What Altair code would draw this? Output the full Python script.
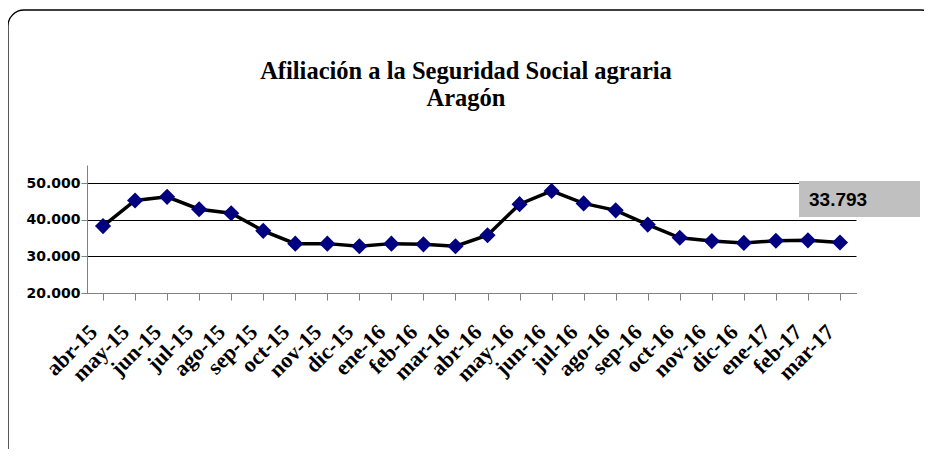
import altair as alt
import pandas as pd

months = ["abr-15", "may-15", "jun-15", "jul-15", "ago-15", "sep-15", "oct-15", "nov-15",
          "dic-15", "ene-16", "feb-16", "mar-16", "abr-16", "may-16", "jun-16", "jul-16",
          "ago-16", "sep-16", "oct-16", "nov-16", "dic-16", "ene-17", "feb-17", "mar-17"]
afiliados = [38300, 45300, 46300, 42900, 41800, 37000, 33500, 33500,
             32800, 33500, 33300, 32800, 35800, 44300, 47900, 44500,
             42600, 38700, 35100, 34200, 33700, 34300, 34400, 33793]
title_lines = ["Afiliación a la Seguridad Social agraria", "Aragón"]
y_ticks = [20000, 30000, 40000, 50000]

df = pd.DataFrame({"mes": months, "afiliados": afiliados})

W, H = 769, 128

x_enc = alt.X("mes:N", sort=months, title=None,
              scale=alt.Scale(paddingInner=0, paddingOuter=0),
              axis=alt.Axis(bandPosition=0, labelAngle=-45, labelAlign="right",
                            labelBaseline="middle", labelFont="Liberation Serif",
                            labelFontWeight="bold", labelFontSize=22, labelColor="black",
                            labelPadding=28, labelOffset=-10, tickSize=7, tickColor="#808080",
                            domainColor="#808080", grid=False, labelOverlap=False))
y_enc = alt.Y("afiliados:Q", title=None,
              scale=alt.Scale(domain=[20000, 55000], nice=False, zero=False),
              axis=alt.Axis(values=y_ticks, grid=True, gridColor="black", gridWidth=1,
                            labelExpr="replace(format(datum.value, ','), ',', '.')",
                            labelFont="DejaVu Sans", labelFontWeight="bold", labelFontSize=14,
                            labelColor="black", labelPadding=1, tickSize=6, tickColor="#808080",
                            domainColor="#808080"))

base = alt.Chart(df)

frame = base.transform_filter(alt.datum.mes == months[0]).mark_rect(
    fillOpacity=0, stroke="black", strokeWidth=1.3, cornerRadius=16
).encode(x=alt.value(-79), x2=alt.value(850), y=alt.value(-155), y2=alt.value(300))

line = base.mark_line(color="black", strokeWidth=3.5).encode(x=x_enc, y=y_enc)
points = base.mark_point(shape="diamond", filled=True, color="#000080", size=260, opacity=1).encode(
    x=x_enc, y=y_enc)

title_df = pd.DataFrame({"t": title_lines})
title1 = alt.Chart(title_df).transform_filter(alt.datum.t == title_lines[0]).mark_text(
    font="Liberation Serif", fontWeight="bold", fontSize=24.5, align="center",
    baseline="alphabetic", color="black"
).encode(text="t:N", x=alt.value(379), y=alt.value(-86))
title2 = alt.Chart(title_df).transform_filter(alt.datum.t == title_lines[1]).mark_text(
    font="Liberation Serif", fontWeight="bold", fontSize=24.5, align="center",
    baseline="alphabetic", color="black"
).encode(text="t:N", x=alt.value(379), y=alt.value(-59))

last = base.transform_filter(alt.datum.mes == months[-1]).transform_calculate(
    label="replace(format(datum.afiliados, ','), ',', '.')")
box = last.mark_rect(fill="#c0c0c0").encode(
    x=alt.value(712), x2=alt.value(833), y=alt.value(16), y2=alt.value(52))
box_text = last.mark_text(font="Liberation Sans", fontWeight="bold", fontSize=19,
                          align="left", baseline="alphabetic", color="black").encode(
    text="label:N", x=alt.value(722), y=alt.value(41))

chart = alt.layer(frame, line, points, box, box_text, title1, title2).properties(
    width=W, height=H,
    padding={"left": 79, "top": 157, "right": 68, "bottom": 156},
    autosize=alt.AutoSizeParams(type="none"),
).configure_view(stroke=None)

chart.save("out.html", embed_options={"renderer": "svg", "actions": False})
